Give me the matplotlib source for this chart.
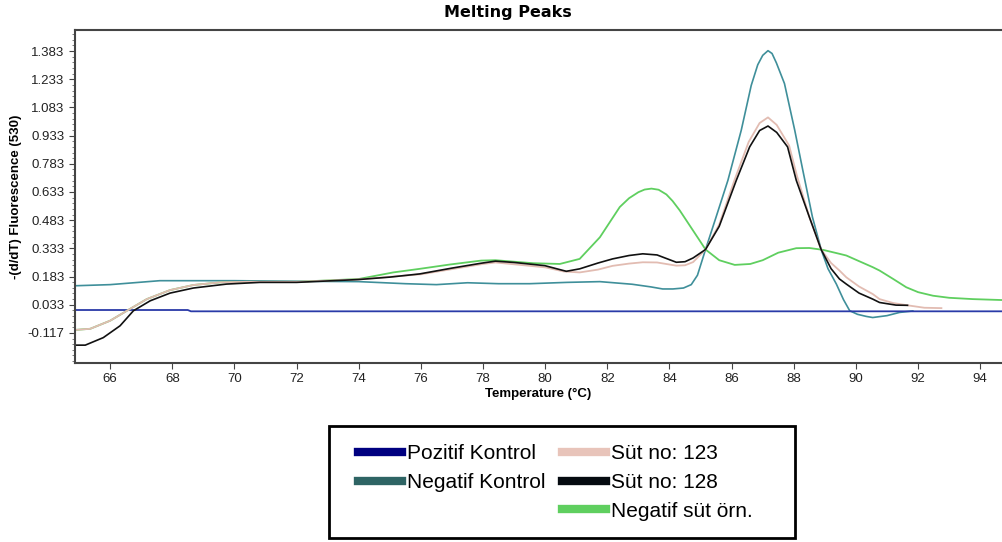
import numpy as np
import matplotlib.pyplot as plt
from matplotlib.lines import Line2D
from matplotlib.patches import Rectangle
from matplotlib.ticker import FixedLocator

plt.rcParams['font.family'] = ['Liberation Sans', 'DejaVu Sans']

# Pozitif Kontrol
poz_x = [64.87, 68.5, 68.6, 94.7]
poz_y = [0.005, 0.005, -0.002, -0.002]

# Negatif Kontrol
negk_x = [64.87, 66.0, 67.6, 70.0, 72.0, 74.0, 75.5, 76.5, 77.5, 78.5, 79.5, 80.7,
          81.76, 82.8, 83.4, 83.78, 84.11, 84.45, 84.7, 84.9, 85.16, 85.5, 85.88, 86.31,
          86.63, 86.84, 87.0, 87.17, 87.3, 87.44, 87.7, 88.03, 88.29, 88.6, 88.88,
          89.1, 89.37, 89.6, 89.8, 90.05, 90.33, 90.54, 91.0, 91.4, 91.83]
negk_y = [0.134, 0.14, 0.161, 0.161, 0.158, 0.156, 0.145, 0.14, 0.15, 0.145, 0.145, 0.152,
          0.156, 0.142, 0.128, 0.117, 0.117, 0.122, 0.14, 0.19, 0.327, 0.5, 0.695, 0.962,
          1.2, 1.31, 1.36, 1.385, 1.37, 1.32, 1.21, 0.962, 0.749, 0.5, 0.327,
          0.225, 0.143, 0.06, 0.001, -0.018, -0.029, -0.035, -0.025, -0.008, 0.0]

# Süt no: 123
s123_x = [64.87, 65.36, 66.0, 66.54, 67.18, 67.93, 68.68, 69.54, 70.39, 72.0, 74.0, 76.0,
          78.0, 78.4, 80.0, 80.6, 81.11, 81.7, 82.17, 82.7, 83.14, 83.6, 84.22, 84.5, 84.76,
          85.16, 85.6, 86.1, 86.55, 86.9, 87.17, 87.45, 87.85, 88.1, 88.5, 88.88, 89.2,
          89.47, 89.69, 90.1, 90.54, 90.76, 91.2, 91.62, 92.2, 92.75]
s123_y = [-0.101, -0.095, -0.052, 0.001, 0.063, 0.111, 0.138, 0.152, 0.155, 0.155, 0.168, 0.195,
          0.25, 0.258, 0.232, 0.21, 0.205, 0.22, 0.24, 0.252, 0.259, 0.258, 0.241, 0.243, 0.26,
          0.327, 0.46, 0.7, 0.9, 1.0, 1.03, 0.99, 0.88, 0.72, 0.5, 0.327, 0.255,
          0.215, 0.179, 0.13, 0.09, 0.063, 0.042, 0.031, 0.017, 0.015]

# Süt no: 128
s128_x = [64.87, 65.2, 65.78, 66.32, 66.75, 67.29, 67.93, 68.68, 69.75, 70.82, 72.0, 73.98,
          75.0, 75.96, 77.0, 77.94, 78.4, 79.0, 79.99, 80.68, 81.11, 81.7, 82.17, 82.7,
          83.14, 83.6, 84.22, 84.5, 84.76, 85.16, 85.6, 86.15, 86.58, 86.9, 87.17, 87.45,
          87.8, 88.08, 88.5, 88.88, 89.2, 89.47, 89.69, 90.1, 90.54, 90.76, 91.29, 91.66]
s128_y = [-0.182, -0.182, -0.142, -0.079, 0.001, 0.054, 0.095, 0.122, 0.143, 0.152, 0.152, 0.167,
          0.18, 0.197, 0.228, 0.254, 0.265, 0.258, 0.241, 0.211, 0.224, 0.255, 0.277, 0.295,
          0.304, 0.298, 0.259, 0.262, 0.282, 0.327, 0.45, 0.695, 0.873, 0.96, 0.984, 0.95,
          0.873, 0.695, 0.5, 0.327, 0.225, 0.17, 0.143, 0.095, 0.063, 0.045, 0.031, 0.03]

# Negatif süt örn.
negs_x = [64.87, 65.36, 66.0, 66.54, 67.18, 67.93, 68.68, 69.54, 70.39, 72.0, 74.0, 75.11,
          75.96, 76.93, 77.94, 78.4, 79.0, 79.62, 80.47, 81.11, 81.76, 82.4, 82.7, 83.0,
          83.2, 83.42, 83.65, 83.9, 84.1, 84.33, 84.65, 84.97, 85.16, 85.6, 86.1, 86.6,
          87.0, 87.5, 88.08, 88.5, 88.94, 89.47, 89.69, 90.1, 90.54, 90.76, 91.2, 91.62,
          92.0, 92.48, 93.0, 93.76, 94.7]
negs_y = [-0.101, -0.095, -0.052, 0.001, 0.063, 0.111, 0.138, 0.152, 0.155, 0.155, 0.17, 0.205,
          0.224, 0.247, 0.268, 0.27, 0.262, 0.254, 0.25, 0.277, 0.392, 0.553, 0.6, 0.632,
          0.646, 0.651, 0.645, 0.62, 0.585, 0.535, 0.455, 0.375, 0.327, 0.27, 0.245, 0.25,
          0.27, 0.31, 0.334, 0.335, 0.325, 0.304, 0.295, 0.265, 0.233, 0.215, 0.17, 0.126,
          0.1, 0.081, 0.07, 0.063, 0.058]

yticks = [-0.117, 0.033, 0.183, 0.333, 0.483, 0.633, 0.783, 0.933, 1.083, 1.233, 1.383]
xticks = list(range(66, 95, 2))

fig = plt.figure(figsize=(10.02, 5.42), dpi=100)
ax = fig.add_axes([75 / 1002, 1 - 363 / 542, 1 - 75 / 1002, 333 / 542])

ax.plot(negk_x, negk_y, color="#3f8f9a", lw=1.2)
ax.plot(poz_x, poz_y, color="#2a3aa8", lw=1.3)
ax.plot(negs_x, negs_y, color="#5fcf5f", lw=1.3)
ax.plot(s123_x, s123_y, color="#e2bcb2", lw=1.3)
ax.plot(s128_x, s128_y, color="#111111", lw=1.2)

ax.set_xlim(64.87, 94.7)
ax.set_ylim(-0.277, 1.495)
ax.set_xticks(xticks)
ax.set_yticks(yticks)
ax.set_yticklabels([f"{v:.3f}" for v in yticks])
ax.yaxis.set_minor_locator(FixedLocator(np.arange(-0.267, 1.49, 0.03)))
ax.tick_params(which="major", length=4, width=0.8, colors="#444", labelsize=9.5,
               labelcolor="#222")
ax.tick_params(which="minor", length=2, width=0.6, colors="#666")

for side in ["left", "bottom", "top"]:
    ax.spines[side].set_color("#444")
    ax.spines[side].set_linewidth(1.5)
ax.spines["right"].set_visible(False)

ax.set_xlabel("Temperature (°C)", fontsize=9.5, fontweight="bold", labelpad=2)
ax.set_ylabel("-(d/dT) Fluorescence (530)", fontsize=9.5, fontweight="bold", labelpad=4)
fig.text(508 / 1002, 1 - 12 / 542, "Melting Peaks", ha="center", va="center",
         fontsize=11.5, fontweight="heavy", family=["DejaVu Sans"])

handles = [
    Line2D([], [], color="#000080", lw=6),
    Line2D([], [], color="#2e6464", lw=6),
    Line2D([], [], color="none", lw=0),
    Line2D([], [], color="#e8c4ba", lw=6),
    Line2D([], [], color="#050a10", lw=6),
    Line2D([], [], color="#5fcf5f", lw=6),
]
labels = ["Pozitif Kontrol", "Negatif Kontrol", "", "Süt no: 123", "Süt no: 128",
          "Negatif süt örn."]
leg = fig.legend(handles, labels, ncol=2, loc="upper left",
                 bbox_to_anchor=(358 / 1002, 1 - 444 / 542), borderaxespad=0,
                 fontsize=15, frameon=False, handlelength=2.1,
                 handletextpad=0.25, columnspacing=0.8, labelspacing=0.47,
                 borderpad=0)

fig.patches.append(Rectangle((329 / 1002, 1 - 538 / 542), 466 / 1002, 112 / 542,
                             transform=fig.transFigure, fill=False,
                             edgecolor="black", linewidth=2))

plt.savefig("out.png", dpi=100)
